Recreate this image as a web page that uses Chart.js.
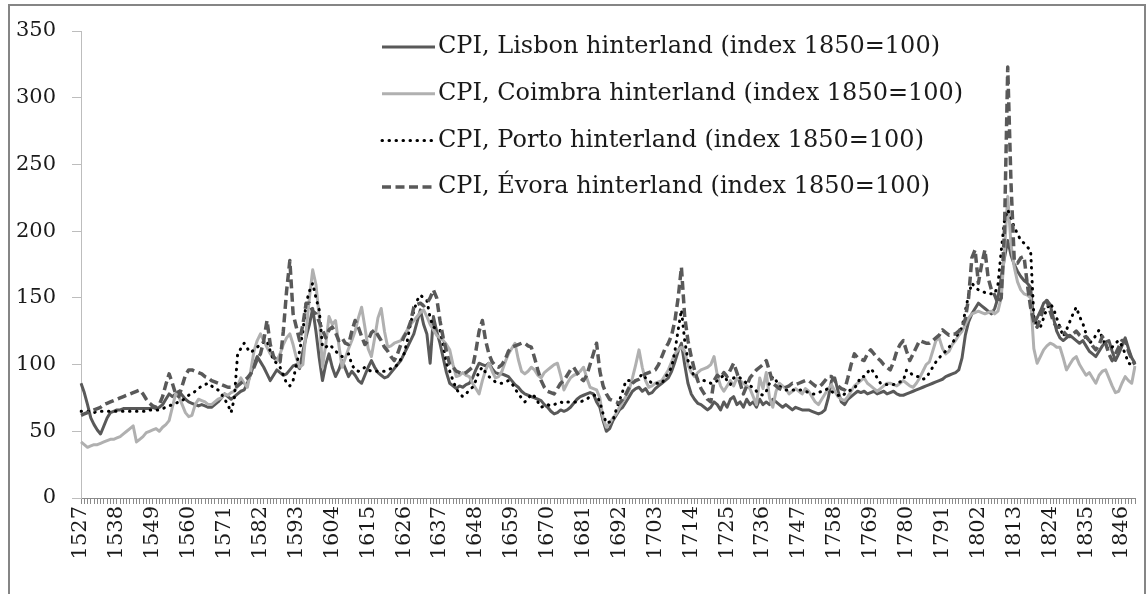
<!DOCTYPE html>
<html>
<head>
<meta charset="utf-8">
<script src="https://cdn.jsdelivr.net/npm/chart.js@4.4.1/dist/chart.umd.min.js"></script>
<style>
  html, body { margin: 0; padding: 0; background: #fff; overflow: hidden; }
  #wrap { position: relative; width: 1147px; height: 594px; }
  #frame { position: absolute; left: 8px; top: 4px; width: 1134px; height: 640px; border: 2px solid #858585; pointer-events: none; }
  canvas { position: absolute; left: 0; top: 0; }
</style>
</head>
<body>
<div id="wrap">
  <canvas id="chart" width="1147" height="594"></canvas>
  <div id="frame"></div>
</div>
<script>
// years on the axis, 1527..1850
const firstYear = 1527, lastYear = 1850;
const years = [];
for (let y = firstYear; y <= lastYear; y++) years.push(y);

const tickYears = [1527, 1538, 1549, 1560, 1571, 1582, 1593, 1604, 1615, 1626, 1637, 1648,
  1659, 1670, 1681, 1692, 1703, 1714, 1725, 1736, 1747, 1758, 1769, 1780, 1791, 1802,
  1813, 1824, 1835, 1846];

const seriesNames = [
  'CPI, Lisbon hinterland (index 1850=100)',
  'CPI, Coimbra hinterland (index 1850=100)',
  'CPI, Porto hinterland (index 1850=100)',
  'CPI, Évora hinterland (index 1850=100)'
];

// one row = ten years, starting 1527, 1537, ...
const lisbon = [
  86, 79, 70, 60, 55, 51, 48, 54, 60, 64,
  65, 66, 66, 67, 67, 67, 67, 67, 67, 67,
  67, 67, 68, 67, 68, 70, 74, 78, 76, 78,
  80, 77, 74, 72, 71, 70, 69, 70, 69, 68,
  68, 70, 72, 75, 78, 76, 74, 76, 78, 80,
  81, 86, 93, 100, 106, 102, 98, 93, 88, 92,
  96, 94, 92, 93, 96, 99, 100, 97, 110, 121,
  130, 142, 125, 105, 88, 100, 108, 98, 91, 96,
  103, 97, 91, 95, 92, 88, 86, 92, 98, 103,
  98, 94, 92, 90, 91, 94, 97, 100, 103, 108,
  113, 118, 123, 132, 141, 130, 123, 101, 136, 125,
  116, 105, 94, 86, 84, 82, 84, 83, 85, 86,
  90, 96, 101, 100, 99, 101, 97, 94, 93, 93,
  92, 91, 88, 85, 83, 80, 78, 77, 76, 75,
  74, 73, 70, 68, 65, 63, 64, 66, 65, 66,
  68, 71, 74, 76, 77, 78, 79, 78, 72, 68,
  58, 50, 52, 58, 62, 66, 68, 72, 76, 80,
  82, 83, 80, 82, 78, 79, 82, 84, 86, 88,
  90, 95, 102, 110, 116, 100, 86, 78, 74, 71,
  70, 68, 66, 68, 72, 70, 66, 72, 68, 74,
  76, 70, 72, 68, 74, 70, 72, 68, 74, 70,
  72, 70, 74, 72, 70, 68, 70, 68, 66, 68,
  67, 66, 66, 66, 65, 64, 63, 64, 66, 75,
  88, 90, 80, 72, 70, 74, 76, 78, 80, 79,
  80, 78, 79, 80, 78, 79, 80, 78, 79, 80,
  78, 77, 77, 78, 79, 80, 81, 82, 83, 84,
  85, 86, 87, 88, 89, 91, 92, 93, 94, 96,
  105, 122, 132, 138, 142, 146, 144, 142, 140, 138,
  142, 150, 165, 180, 193, 182, 175, 170, 166, 163,
  161, 158, 131, 135, 140, 146, 148, 145, 135, 125,
  120, 118, 120, 122, 120, 118, 116, 118, 114, 110,
  108, 106, 110, 114, 117, 118, 110, 103, 108, 114,
  120, 112, 105, 101
];

const coimbra = [
  42, 40, 38, 39, 40, 40, 41, 42, 43, 44,
  44, 45, 46, 48, 50, 52, 54, 42, 44, 46,
  49, 50, 51, 52, 50, 53, 55, 58, 68, 78,
  76, 70, 64, 61, 62, 70, 74, 73, 72, 70,
  70, 72, 74, 75, 78, 77, 79, 80, 84, 90,
  86, 83, 95, 110, 118, 123, 118, 113, 108, 105,
  103, 108, 115, 120, 123, 115, 105, 98, 100, 125,
  150, 171, 160, 136, 98, 115, 136, 130, 133, 115,
  98, 105, 112, 118, 125, 135, 143, 128, 112, 106,
  120, 135, 142, 125, 113, 114, 116, 117, 118, 122,
  126, 130, 133, 136, 139, 141, 136, 130, 126, 122,
  120, 118, 115, 111, 100, 91, 92, 94, 92, 91,
  86, 82, 78, 88, 96, 101, 95, 90, 91, 95,
  102, 108, 112, 116, 104, 95, 93, 95, 98, 96,
  92, 90, 94, 96, 98, 100, 101, 92, 81, 86,
  90, 92, 93, 95, 98, 90, 83, 82, 81, 75,
  60, 53, 56, 60, 63, 68, 72, 76, 81, 90,
  100, 111, 98, 88, 83, 84, 86, 87, 88, 92,
  96, 102, 108, 111, 113, 110, 100, 94, 91, 94,
  96, 97, 98, 100, 106, 92, 84, 80, 84, 88,
  84, 90, 88, 86, 84, 82, 76, 70, 90, 82,
  94, 75, 68, 80, 86, 84, 82, 78, 80, 82,
  80, 78, 82, 80, 76, 72, 70, 74, 78, 82,
  85, 80, 76, 74, 73, 76, 80, 84, 86, 88,
  90, 86, 84, 82, 80, 82, 84, 86, 86, 85,
  84, 86, 88, 86, 84, 83, 86, 90, 95, 100,
  102, 110, 118, 120, 112, 108, 110, 115, 118, 122,
  125, 130, 135, 138, 139, 140, 139, 138, 139, 140,
  138, 140, 150, 185, 226, 190, 173, 162, 156, 153,
  152, 150, 112, 101, 106, 111, 114, 116, 115, 113,
  113, 105, 96, 100, 104, 106, 100, 96, 92, 94,
  90, 86, 92, 95, 96, 90, 84, 79, 80, 86,
  91, 88, 86, 99
];

const porto = [
  65, 65, 65, 65, 64, 65, 65, 65, 65, 65,
  65, 65, 65, 65, 65, 65, 65, 65, 65, 65,
  65, 66, 66, 66, 66, 67, 68, 69, 70, 71,
  72, 73, 75, 77, 78, 80, 82, 84, 85, 86,
  84, 82, 81, 78, 74, 70, 64, 75, 108, 112,
  116, 112, 109, 111, 113, 115, 117, 118, 110, 103,
  101, 98, 92, 86, 84, 88, 100, 110, 125, 146,
  155, 161, 150, 141, 113, 113, 115, 113, 110, 108,
  106, 107, 108, 100, 96, 95, 96, 98, 96, 95,
  95, 95, 95, 95, 96, 97, 98, 100, 104, 108,
  118, 131, 140, 148, 152, 150, 148, 135, 128, 127,
  126, 115, 101, 95, 88, 82, 78, 76, 78, 81,
  83, 88, 95, 98, 94, 91, 89, 87, 86, 86,
  87, 88, 86, 82, 78, 75, 72, 74, 78, 76,
  72, 68, 69, 70, 69, 70, 71, 72, 71, 72,
  72, 72, 72, 72, 73, 74, 76, 77, 77, 72,
  63, 56, 57, 58, 66, 73, 80, 88, 88, 88,
  88, 90, 93, 90, 88, 86, 86, 86, 86, 90,
  94, 98, 110, 126, 141, 118, 103, 96, 91, 89,
  88, 88, 87, 86, 86, 88, 90, 92, 88, 85,
  90, 91, 90, 88, 86, 84, 83, 80, 78, 77,
  80, 86, 91, 88, 84, 82, 81, 81, 81, 81,
  81, 81, 80, 79, 78, 78, 79, 80, 81, 82,
  80, 78, 77, 76, 78, 80, 81, 82, 86, 91,
  91, 94, 97, 94, 90, 86, 85, 85, 85, 85,
  86, 87, 88, 96, 94, 92, 91, 91, 89, 90,
  94, 98, 102, 105, 108, 110, 113, 116, 120, 124,
  128, 140, 152, 161, 158, 156, 155, 154, 153, 153,
  153, 160, 185, 208, 216, 210, 203, 198, 193, 191,
  188, 186, 136, 130, 128, 135, 142, 146, 142, 135,
  128, 121, 126, 132, 138, 143, 136, 131, 123, 116,
  118, 122, 126, 120, 114, 111, 113, 116, 118, 114,
  108, 101, 100, 100
];

const evora = [
  62, 63, 64, 65, 66, 67, 68, 70, 71, 72,
  73, 74, 75, 76, 77, 78, 79, 80, 81, 78,
  74, 71, 69, 68, 70, 76, 85, 93, 86, 78,
  76, 84, 92, 96, 96, 95, 94, 93, 91, 90,
  88, 87, 86, 85, 84, 83, 83, 83, 84, 86,
  88, 90, 93, 98, 104, 108, 118, 133, 115, 106,
  103, 102, 125, 155, 178, 138, 128, 118, 130, 146,
  146, 140, 138, 132, 126, 120, 126, 128, 124, 118,
  120, 116, 115, 125, 133, 128, 121, 115, 118, 124,
  126, 122, 118, 113, 110, 106, 103, 108, 115, 121,
  125, 132, 143, 145, 146, 144, 146, 150, 156, 150,
  133, 120, 110, 100, 98, 95, 94, 93, 94, 96,
  98, 110, 125, 133, 118, 108, 102, 99, 98, 100,
  104, 110, 113, 114, 115, 116, 116, 114, 113, 105,
  96, 88, 83, 80, 79, 78, 82, 86, 88, 92,
  96, 98, 94, 90, 88, 92, 100, 108, 116, 95,
  84, 78, 74, 73, 72, 71, 74, 78, 83, 86,
  88, 89, 91, 93, 94, 95, 96, 100, 106, 112,
  116, 122, 133, 150, 173, 136, 118, 106, 96, 88,
  82, 78, 74, 72, 88, 92, 90, 94, 91, 96,
  101, 94, 86, 78, 84, 90, 93, 96, 98, 100,
  103, 95, 86, 84, 82, 81, 83, 84, 86, 85,
  86, 87, 88, 88, 86, 84, 83, 85, 88, 91,
  91, 88, 84, 82, 81, 90, 100, 108, 105, 104,
  103, 108, 111, 108, 105, 103, 100, 98, 96, 102,
  110, 115, 118, 110, 103, 108, 113, 118, 117, 116,
  116, 118, 120, 122, 126, 124, 122, 123, 123, 125,
  128, 134, 150, 180, 186, 161, 175, 186, 165, 156,
  152, 146, 150, 200, 323, 236, 178, 176, 180, 181,
  160, 143, 132, 128, 135, 142, 148, 140, 132, 128,
  128, 125, 122, 121, 123, 125, 122, 120, 121, 118,
  114, 111, 115, 121, 116, 108, 103, 108, 113, 118,
  118, 110, 104, 100
];

Chart.defaults.font.family = "'DejaVu Serif', serif";
Chart.defaults.color = '#1a1a1a';

// legend drawn inside the plot, like the original
const insideLegend = {
  id: 'insideLegend',
  afterDraw(chart, args, opts) {
    const ctx = chart.ctx;
    ctx.save();
    ctx.font = opts.font;
    ctx.textBaseline = 'middle';
    ctx.textAlign = 'left';
    chart.data.datasets.forEach((ds, i) => {
      const y = opts.top + i * opts.gap;
      ctx.beginPath();
      ctx.setLineDash(ds.borderDash || []);
      ctx.lineCap = ds.borderCapStyle || 'butt';
      ctx.lineWidth = ds.borderWidth;
      ctx.strokeStyle = ds.borderColor;
      ctx.moveTo(opts.x0, y);
      ctx.lineTo(opts.x1, y);
      ctx.stroke();
      ctx.setLineDash([]);
      ctx.fillStyle = '#1a1a1a';
      ctx.fillText(ds.label, opts.textX, y);
    });
    ctx.restore();
  }
};

new Chart(document.getElementById('chart'), {
  type: 'line',
  data: {
    labels: years,
    datasets: [
      { label: seriesNames[0], data: lisbon, borderColor: '#595959', borderWidth: 3, order: 3 },
      { label: seriesNames[1], data: coimbra, borderColor: '#b0b0b0', borderWidth: 3, order: 2 },
      { label: seriesNames[2], data: porto, borderColor: '#000000', borderWidth: 3,
        borderDash: [0.5, 6.5], borderCapStyle: 'round', order: 1 },
      { label: seriesNames[3], data: evora, borderColor: '#595959', borderWidth: 3.5,
        borderDash: [9, 4.5], order: 0 }
    ]
  },
  options: {
    responsive: false,
    animation: false,
    devicePixelRatio: 1,
    elements: { point: { radius: 0 }, line: { tension: 0, borderJoinStyle: 'round' } },
    layout: { padding: { left: 0, right: 12, top: 31, bottom: 0 } },
    scales: {
      x: {
        offset: false,
        border: { color: '#8a8a8a', width: 1 },
        grid: { drawOnChartArea: false, drawTicks: true, tickLength: 6, color: '#8a8a8a' },
        ticks: {
          autoSkip: false, maxRotation: 90, minRotation: 90, padding: 2,
          font: { size: 21 }, color: '#1a1a1a',
          callback: function(val, idx) {
            const yr = years[idx];
            return tickYears.includes(yr) ? String(yr) : '';
          }
        },
        afterFit: function(s) {
          s.height = 96;
          s.paddingLeft = 0;
          s.paddingRight = 0;
        }
      },
      y: {
        min: 0, max: 350,
        border: { color: '#bdbdbd', width: 1 },
        grid: { drawOnChartArea: false, drawTicks: true, tickLength: 9, color: '#bdbdbd' },
        ticks: { stepSize: 50, padding: 16, font: { size: 21 }, color: '#1a1a1a' },
        afterFit: function(s) { s.width = 81; }
      }
    },
    plugins: {
      legend: { display: false },
      tooltip: { enabled: false },
      insideLegend: { font: "24px 'DejaVu Serif', serif", top: 47, gap: 46.7, x0: 382, x1: 435, textX: 438 }
    }
  },
  plugins: [insideLegend]
});
</script>
</body>
</html>
